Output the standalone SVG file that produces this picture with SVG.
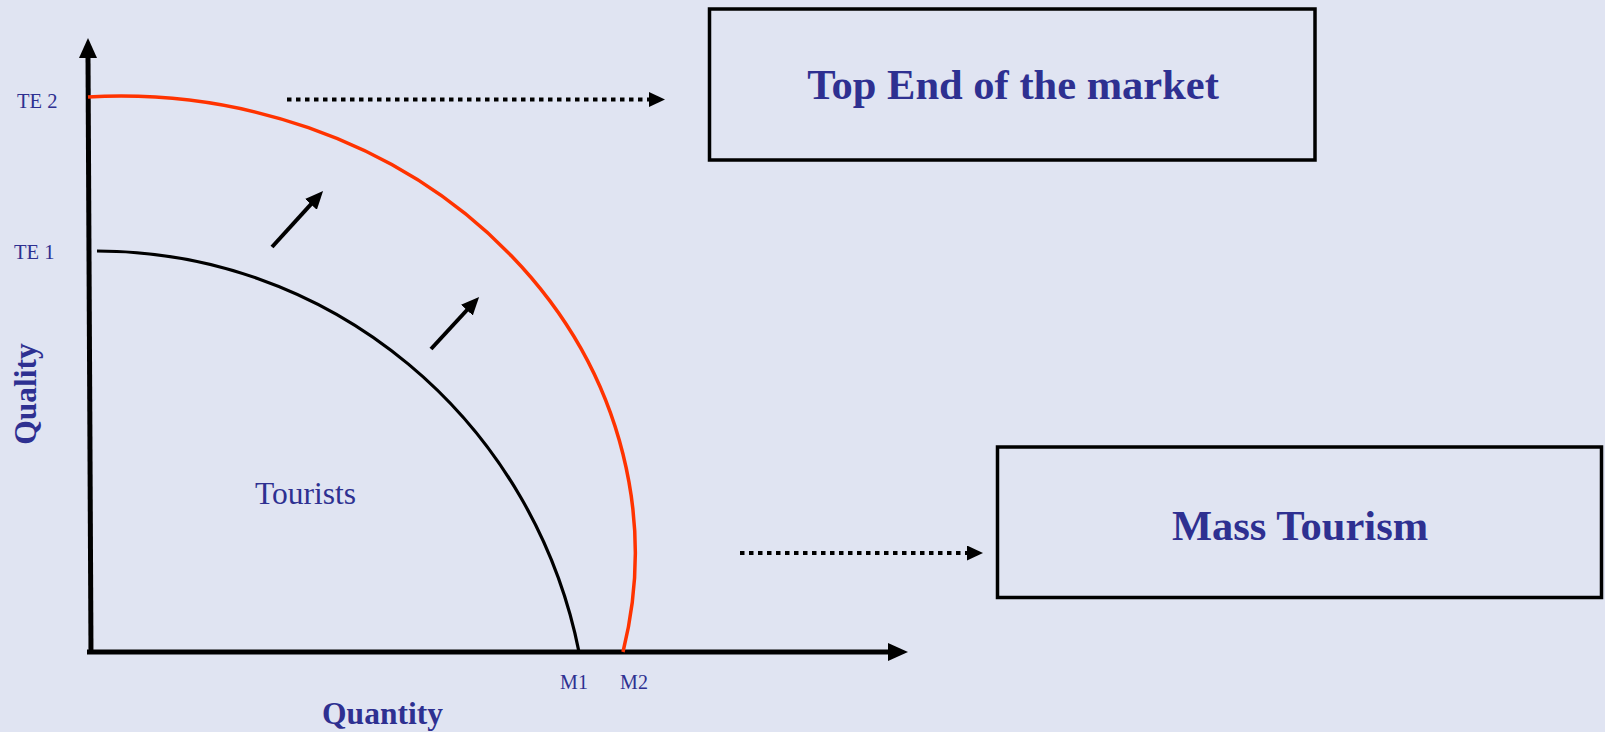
<svg xmlns="http://www.w3.org/2000/svg" width="1605" height="732" viewBox="0 0 1605 732">
<style>
.lbl{font-family:"Liberation Serif","Times New Roman",serif;fill:#2E3091}
.b{font-weight:bold}
.box{fill:none;stroke:#000;stroke-width:3.5}
.axis{stroke:#000;stroke-width:5;fill:none}
.dot{stroke:#000;stroke-width:4;stroke-dasharray:4.5 4.5;fill:none}
.sarrow{stroke:#000;stroke-width:4;fill:none}
</style>
<defs>
<marker id="sh" viewBox="0 0 18 16" refX="9" refY="8" markerWidth="18" markerHeight="16" markerUnits="userSpaceOnUse" orient="auto">
<path d="M0,0 L18,8 L0,16 z" fill="#000"/>
</marker>
<marker id="dh" viewBox="0 0 16 15" refX="0" refY="7.5" markerWidth="16" markerHeight="15" markerUnits="userSpaceOnUse" orient="auto">
<path d="M0,0 L16,7.5 L0,15 z" fill="#000"/>
</marker>
</defs>
<rect width="1605" height="732" fill="#E0E4F2"/>

<g id="axes">
<line class="axis" x1="91" y1="654" x2="88" y2="56"/>
<polygon points="88,38 79,58 97,58" fill="#000"/>
<line class="axis" x1="87" y1="652" x2="890" y2="652"/>
<polygon points="908,652 888,643 888,661" fill="#000"/>
</g>

<g id="curves">
<path d="M97,251 A492,500 0 0 1 579,652" fill="none" stroke="#000" stroke-width="3.2"/>
<path d="M88,97 A515,457 0 0 1 623,652" fill="none" stroke="#FF3300" stroke-width="3.5"/>
</g>

<g id="connectors">
<line class="sarrow" x1="272" y1="247" x2="317" y2="197.7" marker-end="url(#sh)"/>
<line class="sarrow" x1="431" y1="349" x2="473" y2="303.5" marker-end="url(#sh)"/>
<line class="dot" x1="287" y1="99.5" x2="649" y2="99.5" marker-end="url(#dh)"/>
<line class="dot" x1="740" y1="553" x2="967" y2="553" marker-end="url(#dh)"/>
</g>

<g id="node-top">
<rect class="box" x="709.5" y="9" width="605.5" height="151"/>
<text class="lbl b" x="1013" y="99" font-size="42.5" text-anchor="middle">Top End of the market</text>
</g>

<g id="node-mass">
<rect class="box" x="997.5" y="447" width="604" height="150.5"/>
<text class="lbl b" x="1300" y="539.5" font-size="42.5" text-anchor="middle">Mass Tourism</text>
</g>

<g id="labels">
<text class="lbl" x="17" y="108" font-size="20.5">TE 2</text>
<text class="lbl" x="14" y="259" font-size="20.5">TE 1</text>
<text class="lbl" x="574" y="689" font-size="20" text-anchor="middle">M1</text>
<text class="lbl" x="634" y="689" font-size="20" text-anchor="middle">M2</text>
<text class="lbl" x="305.5" y="503.5" font-size="31.5" text-anchor="middle">Tourists</text>
<text class="lbl b" x="382.5" y="724" font-size="31.5" text-anchor="middle">Quantity</text>
<text class="lbl b" font-size="31.5" text-anchor="middle" transform="translate(35.5,394) rotate(-90)">Quality</text>
</g>
</svg>
